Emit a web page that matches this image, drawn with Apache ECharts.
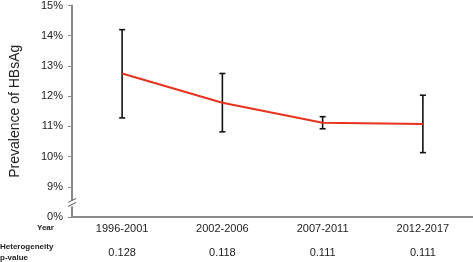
<!DOCTYPE html>
<html>
<head>
<meta charset="utf-8">
<script src="https://cdn.jsdelivr.net/npm/echarts@6/dist/echarts.min.js"></script>
<style>
  html, body { margin: 0; padding: 0; background: #fff; }
  #chart { width: 473px; height: 262px; }
</style>
</head>
<body>
<div id="chart"></div>
<script>
// periods and estimates (%), 8 on the axis stands for the broken 0%
const periods = ["1996-2001", "2002-2006", "2007-2011", "2012-2017"];
const prevalence = [12.75, 11.78, 11.12, 11.08];
const lower = [11.28, 10.82, 10.92, 10.13];
const upper = [14.2, 12.75, 11.32, 12.03];
const pValues = ["0.128", "0.118", "0.111", "0.111"];

const font = "Liberation Sans, Arial, sans-serif";
const chart = echarts.init(document.getElementById("chart"));

const option = {
  animation: false,
  grid: { left: 70, right: 0, top: 4, bottom: 45 },
  xAxis: {
    type: "category",
    data: periods,
    axisLine: { lineStyle: { color: "#8a8a8a", width: 2 } },
    axisTick: { show: false },
    axisLabel: {
      margin: 0,
      formatter: (v, i) => "{a|" + v + "}\n{b|" + pValues[i] + "}",
      rich: {
        a: { fontFamily: font, fontSize: 11, color: "#222", lineHeight: 24 },
        b: { fontFamily: font, fontSize: 11, color: "#222", lineHeight: 24 }
      }
    }
  },
  yAxis: {
    type: "value",
    min: 8,
    max: 15,
    interval: 1,
    name: "Prevalence of HBsAg",
    nameLocation: "middle",
    nameGap: 50,
    nameTextStyle: { fontFamily: font, fontSize: 14, color: "#222" },
    axisLine: { show: true, lineStyle: { color: "#8a8a8a", width: 2 } },
    axisTick: { show: true, length: 4, lineStyle: { color: "#8a8a8a" } },
    splitLine: { show: false },
    axisLabel: {
      margin: 9,
      fontFamily: font,
      fontSize: 11,
      color: "#222",
      formatter: v => (v === 8 ? "0%" : v + "%")
    }
  },
  series: [
    {
      type: "custom",
      z: 3,
      renderItem: (params, api) => {
        const x = api.coord([api.value(0), api.value(1)])[0];
        const yl = api.coord([api.value(0), api.value(1)])[1];
        const yh = api.coord([api.value(0), api.value(2)])[1];
        const s = { stroke: "#111", lineWidth: 1.6 };
        return {
          type: "group",
          children: [
            { type: "line", shape: { x1: x, y1: yl, x2: x, y2: yh }, style: s },
            { type: "line", shape: { x1: x - 3, y1: yl, x2: x + 3, y2: yl }, style: s },
            { type: "line", shape: { x1: x - 3, y1: yh, x2: x + 3, y2: yh }, style: s }
          ]
        };
      },
      data: periods.map((p, i) => [i, lower[i], upper[i]])
    },
    {
      type: "line",
      z: 4,
      data: prevalence,
      symbol: "none",
      lineStyle: { color: "#e8321e", width: 2 }
    }
  ]
};
chart.setOption(option);

// axis break mark and side captions
const ax = chart.convertToPixel({ xAxisIndex: 0 }, 0) - 50;
const yb = chart.convertToPixel({ yAxisIndex: 0 }, 8.45);
chart.setOption({
  graphic: [
    { type: "rect", shape: { x: ax - 4, y: yb - 3, width: 8, height: 6 }, style: { fill: "#fff" }, z: 10 },
    { type: "line", shape: { x1: ax - 4, y1: yb - 1, x2: ax + 4, y2: yb - 5 }, style: { stroke: "#555", lineWidth: 1 }, z: 11 },
    { type: "line", shape: { x1: ax - 4, y1: yb + 3, x2: ax + 4, y2: yb - 1 }, style: { stroke: "#555", lineWidth: 1 }, z: 11 },
    { type: "text", left: 37, top: 224, style: { text: "Year", font: "bold 8px " + font, fill: "#222" } },
    { type: "text", left: 0, top: 241, style: { text: "Heterogeneity\np-value", font: "bold 8px " + font, fill: "#222", lineHeight: 11 } }
  ]
});
</script>
</body>
</html>
